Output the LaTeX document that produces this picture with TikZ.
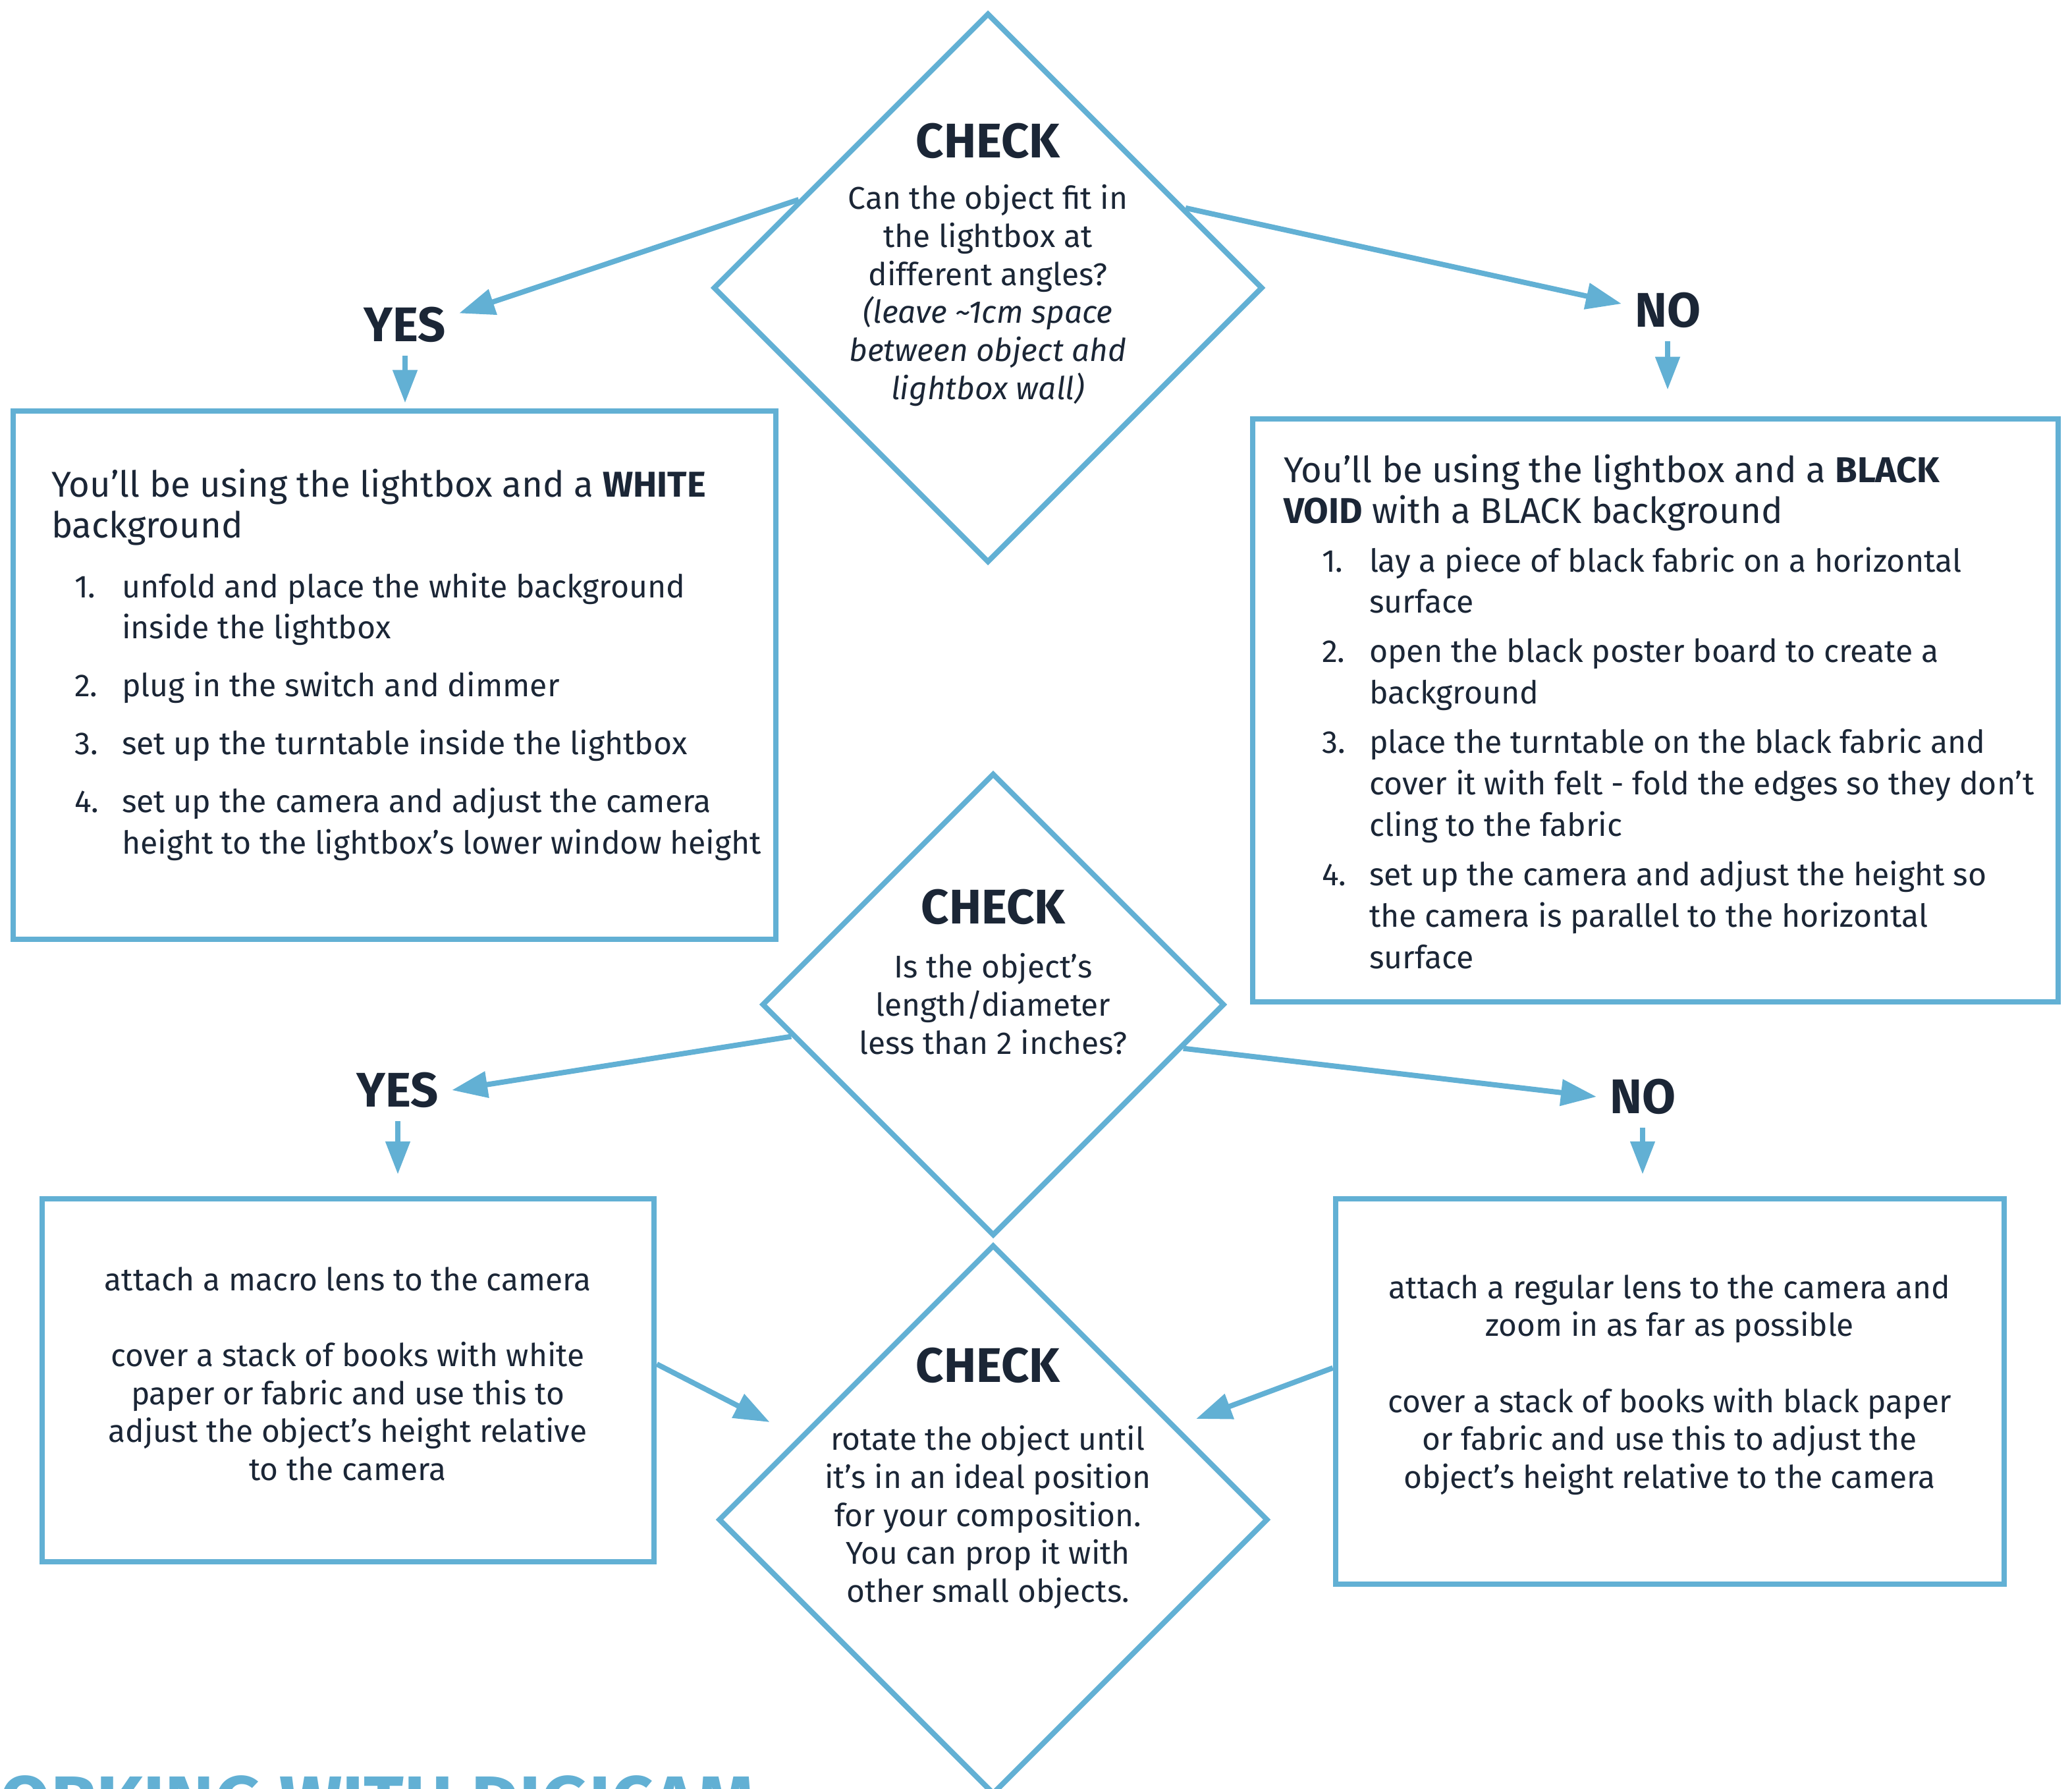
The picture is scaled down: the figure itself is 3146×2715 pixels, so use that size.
\documentclass[tikz,border=0pt]{standalone}
\usepackage{fontspec}
\setmainfont{Fira Sans}
\usetikzlibrary{shapes.geometric,arrows.meta,positioning}
\definecolor{dgblue}{RGB}{98,176,212}
\definecolor{dgink}{RGB}{27,38,54}
\begin{document}
\begin{tikzpicture}[x=0.01cm,y=-0.01cm,
      line width=0.08cm,
      every node/.style={text=dgink,inner sep=0pt},
      check/.style={diamond,draw=dgblue,aspect=1,minimum width=#1,minimum height=#1},
      stepbox/.style={rectangle,draw=dgblue},
      answer/.style={font=\fontsize{21}{22}\selectfont\bfseries,outer sep=0.2cm},
      body/.style={anchor=base,font=\fontsize{13.6}{16.4}\selectfont},
      listtext/.style={anchor=base west,font=\fontsize{13.7}{17.9}\selectfont},
      headtext/.style={anchor=base west,font=\fontsize{15.5}{17.9}\selectfont},
      flow/.style={draw=dgblue,-{Triangle[length=0.54cm,width=0.39cm]}},
      drop/.style={draw=dgblue,-{Triangle[length=0.5cm,width=0.36cm]}}]
      \useasboundingbox (0,0) rectangle (3146,2715);
      \clip (0,0) rectangle (3146,2715);
      % decisions
      \node[check=8.34cm] (d1) at (1500,437) {};
      \node[check=7.02cm] (d2) at (1508,1525) {};
      \node[check=8.34cm] (d3) at (1508,2307) {};
      % boxes
      \node[stepbox,minimum width=11.58cm,minimum height=8.02cm] (b1) at (599,1025) {};
      \node[stepbox,minimum width=12.23cm,minimum height=8.85cm] (b2) at (2513.5,1078.5) {};
      \node[stepbox,minimum width=9.29cm,minimum height=5.51cm] (b3) at (528.5,2095.5) {};
      \node[stepbox,minimum width=10.15cm,minimum height=5.85cm] (b4) at (2535.5,2112.5) {};
      % answers
      \node[answer] (yes1) at (615,493) {YES};
      \node[answer] (no1) at (2532,471) {NO};
      \node[answer] (yes2) at (604,1655) {YES};
      \node[answer] (no2) at (2494,1665) {NO};
      % texts
      \node[body] (d1text) at (1500,239) {\begin{tabular}[t]{@{}c@{}}
        {\fontsize{21}{22}\selectfont\bfseries CHECK}\\[6pt]
        Can the object fit in\\ the lightbox at\\ different angles?\\
        \itshape (leave \textasciitilde1cm space\\ \itshape between object ahd\\
        \itshape lightbox wall)\end{tabular}};
      \node[body] (d2text) at (1508,1402) {\begin{tabular}[t]{@{}c@{}}
        {\fontsize{21}{22}\selectfont\bfseries CHECK}\\[7.1pt]
        Is the object's\\ length/diameter\\ less than 2 inches?\end{tabular}};
      \node[body] (d3text) at (1500,2098) {\begin{tabular}[t]{@{}c@{}}
        {\fontsize{21}{22}\selectfont\bfseries CHECK}\\[13.1pt]
        rotate the object until\\ it's in an ideal position\\ for your composition.\\
        You can prop it with\\ other small objects.\end{tabular}};
      \node[headtext] (b1head) at (74,754) {\begin{tabular}[t]{@{}l@{}}
        You'll be using the lightbox and a \textbf{WHITE}\\ background\end{tabular}};
      \node[listtext] (b1list) at (109,907) {\begin{tabular}[t]{@{}p{0.72cm}@{}l@{}}
        1. & unfold and place the white background\\ & inside the lightbox\\[0.25cm]
        2. & plug in the switch and dimmer\\[0.25cm]
        3. & set up the turntable inside the lightbox\\[0.25cm]
        4. & set up the camera and adjust the camera\\
           & height to the lightbox's lower window height\end{tabular}};
      \node[headtext] (b2head) at (1945,732) {\begin{tabular}[t]{@{}l@{}}
        You'll be using the lightbox and a \textbf{BLACK}\\
        \textbf{VOID} with a BLACK background\end{tabular}};
      \node[listtext] (b2list) at (2003,868) {\begin{tabular}[t]{@{}p{0.72cm}@{}l@{}}
        1. & lay a piece of black fabric on a horizontal\\ & surface\\[0.12cm]
        2. & open the black poster board to create a\\ & background\\[0.12cm]
        3. & place the turntable on the black fabric and\\
           & cover it with felt - fold the edges so they don't\\
           & cling to the fabric\\[0.12cm]
        4. & set up the camera and adjust the height so\\
           & the camera is parallel to the horizontal\\ & surface\end{tabular}};
      \node[body] (b3text) at (528,1959) {\begin{tabular}[t]{@{}c@{}}
        attach a macro lens to the camera\\ \\
        cover a stack of books with white\\ paper or fabric and use this to\\
        adjust the object's height relative\\ to the camera\end{tabular}};
      \node[body] (b4text) at (2535,1971) {\begin{tabular}[t]{@{}c@{}}
        attach a regular lens to the camera and\\ zoom in as far as possible\\ \\
        cover a stack of books with black paper\\ or fabric and use this to adjust the\\
        object's height relative to the camera\end{tabular}};
      \node[anchor=base west,text=dgblue,font=\fontsize{32}{33}\selectfont\bfseries]
        (title) at (-100,2775) {WORKING WITH DIGICAM};
      % connectors
      \draw[flow] (d1.155) -- (yes1.12);
      \draw[flow] (d1.22) -- (no1.172);
      \draw[drop,shorten >=0.08cm] (yes1.south) -- (yes1.south |- b1.north);
      \draw[drop,shorten >=0.4cm] (no1.south) -- (no1.south |- b2.north);
      \draw[flow] (d2.189) -- (yes2.east);
      \draw[flow] (d2.-13) -- (no2.west);
      \draw[drop,shorten >=0.33cm] (yes2.south) -- (yes2.south |- b3.north);
      \draw[drop,shorten >=0.33cm] (no2.south) -- (no2.south |- b4.north);
      \draw[flow,shorten >=0.49cm] (b3.3) -- (d3.157);
      \draw[flow,shorten >=0.31cm] (b4.176) -- (d3.27);
\end{tikzpicture}
\end{document}
